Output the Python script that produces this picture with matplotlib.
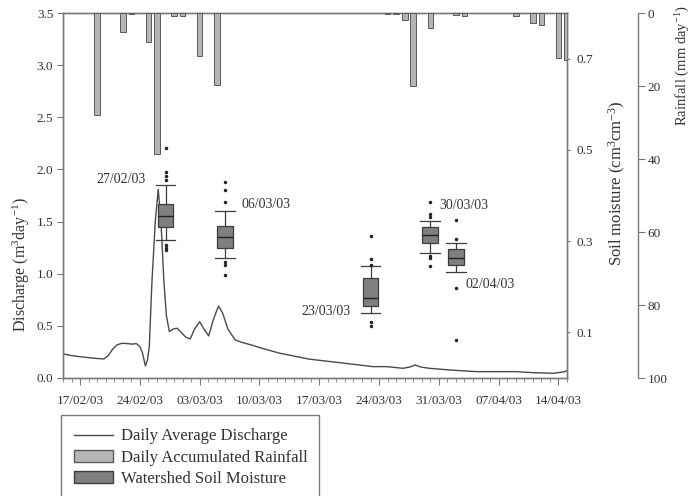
import datetime as dt
import numpy as np
import matplotlib
matplotlib.use("Agg")
import matplotlib.pyplot as plt
import matplotlib.dates as mdates
from matplotlib.lines import Line2D
from matplotlib.patches import Patch

plt.rcParams['font.family'] = ['Liberation Serif', 'DejaVu Serif']
plt.rcParams['mathtext.fontset'] = 'custom'
plt.rcParams['mathtext.rm'] = 'Liberation Serif'
plt.rcParams['mathtext.it'] = 'Liberation Serif:italic'

# dias contados a partir de 15/02/2003
base = mdates.date2num(dt.datetime(2003, 2, 15))

# vazao media diaria
q_days = [0.0, 1.0, 2.0, 3.0, 4.0, 4.8, 5.3, 5.8, 6.3, 6.9, 7.5, 8.1, 8.6, 9.0,
          9.3, 9.65, 9.9, 10.1, 10.4, 10.8, 11.15, 11.5, 11.8, 12.1, 12.45,
          12.9, 13.35, 13.8, 14.4, 14.9, 15.4, 16.0, 16.5, 17.05, 17.6, 18.2,
          18.7, 19.3, 20.15, 21.0, 22.0, 23.3, 25.4, 28.9, 32.4, 36.3, 37.9,
          39.8, 40.6, 41.2, 41.9, 42.9, 45.3, 48.4, 53.1, 55.0, 57.4, 58.7, 59.0]
q_vals = [0.232, 0.215, 0.204, 0.195, 0.187, 0.183, 0.215, 0.275, 0.317, 0.333,
          0.330, 0.325, 0.330, 0.300, 0.240, 0.115, 0.180, 0.300, 0.900, 1.500,
          1.810, 1.450, 0.940, 0.600, 0.445, 0.470, 0.477, 0.440, 0.390, 0.375,
          0.470, 0.540, 0.470, 0.404, 0.560, 0.690, 0.620, 0.470, 0.365, 0.340,
          0.318, 0.285, 0.237, 0.180, 0.147, 0.109, 0.109, 0.093, 0.105, 0.125,
          0.105, 0.093, 0.077, 0.061, 0.061, 0.051, 0.045, 0.060, 0.070]

# chuva acumulada diaria (mm)
rain_days = [4, 7, 8, 10, 11, 13, 14, 16, 18, 38, 39, 40, 41, 43, 46, 47,
             53, 55, 56, 58, 59]
rain_mm = [28.0, 5.1, 0.4, 8.0, 38.5, 0.7, 0.9, 11.7, 19.7, 0.2, 0.4, 1.9,
           19.9, 4.0, 0.5, 0.9, 0.9, 2.7, 3.3, 12.4, 12.9]

# umidade do solo (boxplots)
sm_days = [12, 19, 36, 43, 46]
sm_labels = ['27/02/03', '06/03/03', '23/03/03', '30/03/03', '02/04/03']
sm_whislo = [0.303, 0.264, 0.142, 0.274, 0.232]
sm_q1 = [0.331, 0.286, 0.157, 0.295, 0.248]
sm_med = [0.354, 0.310, 0.176, 0.313, 0.263]
sm_q3 = [0.382, 0.334, 0.219, 0.330, 0.283]
sm_whishi = [0.422, 0.367, 0.245, 0.344, 0.296]
sm_fliers = [[0.505, 0.451, 0.442, 0.433, 0.292, 0.286, 0.281],
             [0.429, 0.413, 0.385, 0.255, 0.248, 0.226],
             [0.312, 0.261, 0.248, 0.122, 0.115],
             [0.385, 0.360, 0.352, 0.267, 0.262, 0.246],
             [0.346, 0.305, 0.197, 0.084]]

spine_c = '#7a7a7a'
text_c = '#333333'

fig = plt.figure(figsize=(6.97, 4.96), dpi=100)
ax = fig.add_axes([63/697, 1-378/496, 504/697, 365/496])
ax2 = ax.twinx()
ax3 = ax.twinx()

# vazao
ax.plot(base + np.array(q_days), q_vals, color='#4a4a4a', lw=1.0)
ax.set_ylim(0, 3.5)
ax.set_yticks(np.arange(0, 3.51, 0.5))
ax.yaxis.set_major_formatter(plt.FormatStrFormatter('%.1f'))
ax.set_xlim(base, base + 59)
ax.xaxis.set_major_locator(mdates.WeekdayLocator(byweekday=mdates.MO))
ax.xaxis.set_minor_locator(mdates.DayLocator())
ax.xaxis.set_major_formatter(mdates.DateFormatter('%d/%m/%y'))
ax.tick_params(axis='x', which='major', length=5, pad=7, labelsize=9.5,
               color=spine_c, labelcolor=text_c)
ax.tick_params(axis='x', which='minor', length=3, color=spine_c)
ax.tick_params(axis='y', length=4, pad=3, labelsize=9.5, color=spine_c,
               labelcolor=text_c)
ax.set_ylabel('Discharge (m$^3$day$^{-1}$)', fontsize=11.5, color=text_c)
ax.yaxis.set_label_coords(-0.062, 0.31)

# umidade do solo
stats = []
for i in range(len(sm_days)):
    stats.append(dict(med=sm_med[i], q1=sm_q1[i], q3=sm_q3[i],
                      whislo=sm_whislo[i], whishi=sm_whishi[i],
                      fliers=sm_fliers[i]))
ax2.bxp(stats, positions=[base + d for d in sm_days], widths=1.85,
        capwidths=2.3, patch_artist=True, manage_ticks=False,
        boxprops=dict(facecolor='#808080', edgecolor='#3c3c3c', lw=0.9),
        medianprops=dict(color='#222222', lw=1.0),
        whiskerprops=dict(color='#3c3c3c', lw=0.9),
        capprops=dict(color='#3c3c3c', lw=0.9),
        flierprops=dict(marker='o', markersize=1.5, markerfacecolor='#222222',
                        markeredgecolor='#222222'))
ax2.set_ylim(0, 0.8)
ax2.set_yticks([0.1, 0.3, 0.5, 0.7])
ax2.tick_params(axis='y', length=2, pad=5, labelsize=9.5, color=spine_c,
                labelcolor=text_c)
ax2.set_ylabel('Soil moisture (cm$^3$cm$^{-3}$)', fontsize=12, color=text_c)
ax2.yaxis.set_label_coords(1.079, 0.535)

lab_pos = [(9.7, 0.436, 'right'), (20.9, 0.381, 'left'), (33.7, 0.145, 'right'),
           (44.1, 0.379, 'left'), (47.15, 0.204, 'left')]
for (xd, yv, ha), lab in zip(lab_pos, sm_labels):
    ax2.text(base + xd, yv, lab, ha=ha, va='center', fontsize=10, color=text_c)

# chuva
ax3.bar(base + np.array(rain_days), rain_mm, width=0.66, color='#b5b5b5',
        edgecolor='#5a5a5a', lw=0.7)
ax3.set_ylim(100, 0)
ax3.set_yticks([0, 20, 40, 60, 80, 100])
ax3.spines['right'].set_position(('axes', 1.141))
ax3.tick_params(axis='y', length=5, pad=2, labelsize=9.5, color=spine_c,
                labelcolor=text_c)
ax3.set_ylabel('Rainfall (mm day$^{-1}$)', fontsize=10.5, color=text_c)
ax3.yaxis.set_label_coords(1.212, 0.855)

for a in (ax, ax2, ax3):
    for s in a.spines.values():
        s.set_color(spine_c)
        s.set_linewidth(1.0)
for s in ('top', 'bottom', 'left'):
    ax3.spines[s].set_visible(False)

handles = [Line2D([], [], color='#4a4a4a', lw=1.0),
           Patch(facecolor='#b5b5b5', edgecolor='#5a5a5a'),
           Patch(facecolor='#808080', edgecolor='#3c3c3c')]
labels = ['Daily Average Discharge', 'Daily Accumulated Rainfall',
          'Watershed Soil Moisture']
leg = fig.legend(handles, labels, loc='upper left',
                 bbox_to_anchor=(61/697, 0, 258/697, 1-415/496), mode='expand',
                 fontsize=12, frameon=True, fancybox=False, framealpha=1,
                 edgecolor=spine_c, borderpad=0.8, borderaxespad=0,
                 labelspacing=0.31, handlelength=2.3, handletextpad=0.48,
                 handleheight=0.7)
leg.get_frame().set_linewidth(1.0)
for t in leg.get_texts():
    t.set_color(text_c)

fig.savefig('out.png', dpi=100)
